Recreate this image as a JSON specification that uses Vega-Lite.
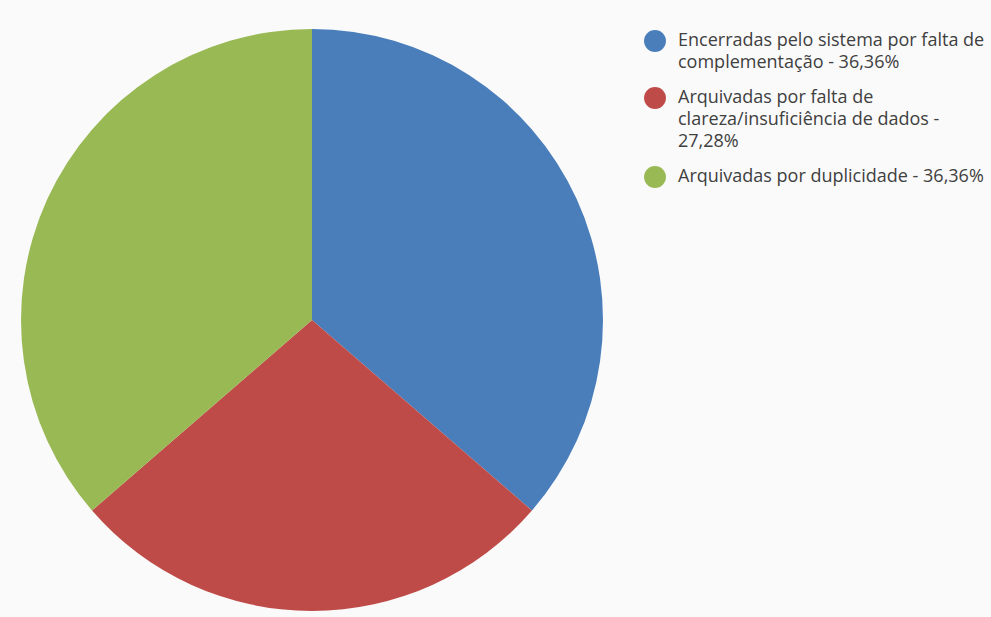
{
  "$schema": "https://vega.github.io/schema/vega-lite/v6.json",
  "autosize": {"type": "none"},
  "width": 582,
  "height": 582,
  "padding": {"left": 21, "top": 29, "right": 388, "bottom": 6},
  "background": "#fafafa",
  "data": {
    "values": [
      {"categoria": "Encerradas pelo sistema por falta de|complementação - 36,36%", "valor": 36.36, "ordem": 1},
      {"categoria": "Arquivadas por falta de|clareza/insuficiência de dados -|27,28%", "valor": 27.28, "ordem": 2},
      {"categoria": "Arquivadas por duplicidade - 36,36%", "valor": 36.36, "ordem": 3}
    ]
  },
  "mark": {"type": "arc"},
  "encoding": {
    "theta": {"field": "valor", "type": "quantitative", "stack": true},
    "order": {"field": "ordem", "type": "quantitative"},
    "color": {
      "field": "categoria",
      "type": "nominal",
      "sort": {"field": "ordem"},
      "scale": {
        "domain": [
          "Encerradas pelo sistema por falta de|complementação - 36,36%",
          "Arquivadas por falta de|clareza/insuficiência de dados -|27,28%",
          "Arquivadas por duplicidade - 36,36%"
        ],
        "range": ["#4A7EBB", "#BE4B48", "#98B954"]
      },
      "legend": {
        "title": null,
        "orient": "none",
        "legendX": 623,
        "legendY": 1,
        "symbolType": "circle",
        "symbolSize": 480,
        "symbolStrokeWidth": 0,
        "labelFont": "Open Sans",
        "labelFontSize": 18,
        "labelColor": "#404040",
        "labelLimit": 400,
        "labelOffset": 12,
        "labelBaseline": "middle",
        "rowPadding": 15,
        "labelExpr": "split(datum.label, '|')",
        "encode": {"labels": {"update": {"lineHeight": {"value": 22}, "fontSize": {"value": 18}}}}
      }
    }
  }
}
